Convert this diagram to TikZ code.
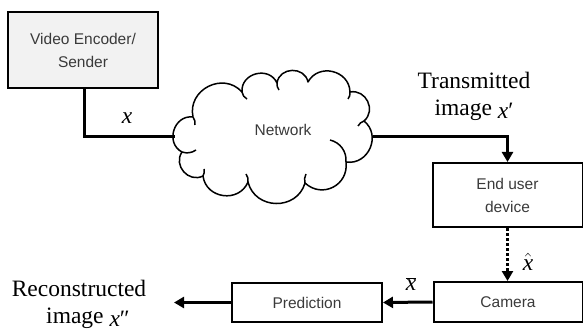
\documentclass[tikz,border=0pt]{standalone}
\usepackage{fontspec}
\setmainfont{Liberation Serif}
\newfontfamily\sansf{Liberation Sans}
\usetikzlibrary{arrows.meta}
\definecolor{txtgray}{HTML}{3A3A3A}
\definecolor{boxfill}{HTML}{F2F2F2}
\newcommand{\vx}{\textit{x}}
\begin{document}
\begin{tikzpicture}[x=1pt,y=-1pt,
  box/.style={draw=black,line width=2pt,font=\sansf\fontsize{15.5}{23}\selectfont,text=txtgray,align=center,inner sep=0pt},
  conn/.style={line width=3pt},
  tip/.style={-{Triangle[length=10pt,width=11pt]}},
  serif/.style={font=\fontsize{23.5}{27}\selectfont,align=center,inner sep=0pt},
  mlabel/.style={font=\fontsize{23.5}{27}\selectfont,inner sep=0pt},
  cloudline/.style={line width=1.5pt,line join=round}]
\useasboundingbox (0,0) rectangle (583,331);

% boxes
\node[box,fill=boxfill,minimum width=150pt,minimum height=76pt] (enc) at (83,50) {Video Encoder/\\Sender};
\node[box,minimum width=150pt,minimum height=64pt] (end) at (507.5,195) {End user\\device};
\node[box,minimum width=149pt,minimum height=40pt] (cam) at (508,302) {Camera};
\node[box,minimum width=150pt,minimum height=39pt] (pred) at (307,302.5) {Prediction};

% cloud
\node[minimum width=197pt,minimum height=127pt,inner sep=0pt] (net) at (274,137) {};
\node[font=\sansf\fontsize{15.5}{20}\selectfont,text=txtgray,inner sep=0pt] (nettxt) at (283,130) {Network};
\draw[cloudline]
  (182,152) to[bend left=80,looseness=1.35] (193,117)
  to[bend left=75,looseness=1.3] (242,92)
  to[bend left=80,looseness=1.35] (277,83)
  to[bend left=80,looseness=1.35] (308,82)
  to[bend left=75,looseness=1.3] (350,92)
  to[bend left=75,looseness=1.3] (364,121)
  to[bend left=75,looseness=1.3] (346,162)
  to[bend left=70,looseness=1.3] (305,183)
  to[bend left=75,looseness=1.3] (248,182)
  to[bend left=75,looseness=1.3] (203,176)
  to[bend left=75,looseness=1.3] cycle;
% interior hooks
\draw[cloudline] (193,117) to[bend left=20] (195,125);
\draw[cloudline] (242,92) to[bend right=25] (247,99);
\draw[cloudline] (277,83) to[bend right=20] (279,90);
\draw[cloudline] (350,92) to[bend left=20] (348,99);
\draw[cloudline] (364,121) to[bend right=20] (358,126);
\draw[cloudline] (330,140) to[bend left=40] (346,162);
\draw[cloudline] (305,183) to[bend left=20] (306,174);
\draw[cloudline] (248,182) to[bend right=20] (246,174);
\draw[cloudline] (203,176) to[bend right=20] (204,169);
\draw[cloudline] (182,152) to[bend right=25] (196,150);

% connectors
\coordinate (c1) at (84,137);
\draw[conn] (enc.south -| c1) -- (c1) -- (net.west);
\node[mlabel] (lx) at (127,118) {\vx};

\coordinate (c2) at (507.5,137);
\draw[conn,tip] (net.east) -- (c2) -- (end.north);
\node[serif] (ttx) at (474,96) {Transmitted\\image \raisebox{-3pt}{\vx′}};

\draw[line width=3pt,dotted,tip] (end.south) -- (end.south |- cam.north);
\node[mlabel] (lxh) at (528,262) {$\hat{\mbox{\vx}}$};

\draw[conn,tip] (cam.west) -- (pred.east);
\node[mlabel] (lxb) at (411,284) {$\overline{\mbox{\vx}}$};

\coordinate (c3) at (174,302.5);
\draw[conn,tip] (pred.west) -- (c3);
\node[serif] (rec) at (79,304) {Reconstructed\\\hspace*{18pt}image \raisebox{-3pt}{\vx″}};
\end{tikzpicture}
\end{document}
